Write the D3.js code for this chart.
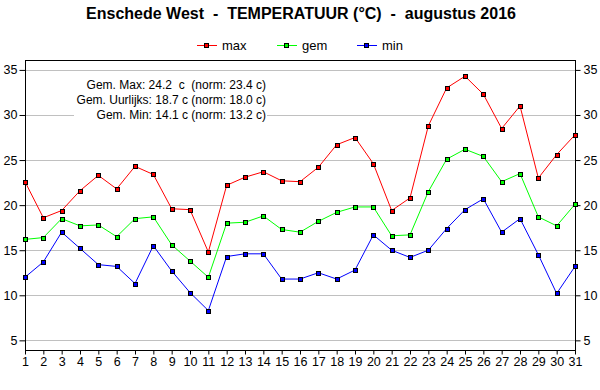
<!DOCTYPE html>
<html>
<head>
<meta charset="utf-8">
<script src="https://cdn.jsdelivr.net/npm/d3@7"></script>
<style>
  body { margin: 0; background: #fff; }
  svg { display: block; font-family: "Liberation Sans", Arial, sans-serif; }
  svg text { white-space: pre; }
</style>
</head>
<body>
<div id="chart"></div>
<script>
// data: augustus 2016, Enschede West
var days = d3.range(1, 32);
var maxTemp = [22.6, 18.6, 19.4, 21.6, 23.3, 21.8, 24.3, 23.4, 19.6, 19.5, 14.8, 22.2, 23.1, 23.7, 22.7, 22.6,
  24.2, 26.7, 27.5, 24.6, 19.4, 20.8, 28.8, 33.0, 34.3, 32.3, 28.5, 31.0, 23.0, 25.6, 27.8];
var gemTemp = [16.2, 16.4, 18.5, 17.7, 17.8, 16.5, 18.5, 18.7, 15.6, 13.8, 12.0, 18.0, 18.1, 18.8, 17.3, 17.0,
  18.2, 19.2, 19.8, 19.8, 16.6, 16.7, 21.5, 25.1, 26.2, 25.4, 22.6, 23.5, 18.7, 17.7, 20.1];
var minTemp = [12.0, 13.7, 17.0, 15.2, 13.4, 13.2, 11.3, 15.5, 12.7, 10.3, 8.3, 14.3, 14.6, 14.6, 11.8, 11.8,
  12.5, 11.8, 12.8, 16.7, 15.0, 14.2, 15.0, 17.4, 19.5, 20.7, 17.0, 18.5, 14.5, 10.2, 13.2];
var yTicks = [5, 10, 15, 20, 25, 30, 35];
var seriesNames = ["max", "gem", "min"];
var seriesColors = ["#ff0000", "#00ff00", "#0000ff"];
var statLines = [
  "Gem. Max: 24.2  c  (norm: 23.4 c)",
  "Gem. Uurlijks: 18.7 c (norm: 18.0 c)",
  "Gem. Min: 14.1 c (norm: 13.2 c)"
];
var title = "Enschede West  -  TEMPERATUUR (°C)  -  augustus 2016";

var width = 600, height = 390;
var margin = { top: 60, right: 25, bottom: 40, left: 25 };

var svg = d3.select("#chart").append("svg")
  .attr("width", width).attr("height", height);

var x = d3.scaleLinear().domain([1, 31]).range([margin.left, width - margin.right]);
var y = d3.scaleLinear().domain([3.93, 36.1]).range([height - margin.bottom, margin.top]);

// title
svg.append("text")
  .attr("x", 301).attr("y", 19)
  .attr("text-anchor", "middle")
  .style("font-weight", "bold").style("font-size", "16px")
  .text(title);

// legend
var legendX = [197, 277, 357];
var lg = svg.append("g").attr("class", "legend");
seriesNames.forEach(function (name, i) {
  var g = lg.append("g").attr("transform", "translate(" + legendX[i] + ",45)");
  g.append("line").attr("x1", 0).attr("x2", 20).attr("y1", 0.5).attr("y2", 0.5)
    .attr("stroke", seriesColors[i]).attr("stroke-width", 1);
  g.append("rect").attr("x", 7.5).attr("y", -1.5).attr("width", 4).attr("height", 4)
    .attr("fill", seriesColors[i]).attr("stroke", "#000").attr("stroke-width", 1);
  g.append("text").attr("x", 25).attr("y", 5).style("font-size", "13px").text(name);
});

// grid
svg.append("g").attr("class", "grid")
  .selectAll("line").data(yTicks).join("line")
  .attr("x1", margin.left).attr("x2", width - margin.right)
  .attr("y1", function (d) { return Math.round(y(d)) + 0.5; })
  .attr("y2", function (d) { return Math.round(y(d)) + 0.5; })
  .attr("stroke", "#c0c0c0").attr("stroke-width", 1);

// stats box (white, hides grid)
svg.append("rect").attr("x", 74).attr("y", 75).attr("width", 193).attr("height", 46).attr("fill", "#fff");
svg.append("g").selectAll("text").data(statLines).join("text")
  .attr("x", 266).attr("y", function (d, i) { return 88.5 + i * 15; })
  .attr("text-anchor", "end").style("font-size", "12px").attr("fill", "#000")
  .text(function (d) { return d; });

// axes
function styleAxis(g) {
  g.select(".domain").remove();
  g.selectAll(".tick line").attr("stroke", "#000");
  g.selectAll(".tick text").style("font-size", "12.5px").attr("fill", "#000").style("font-family", "Liberation Sans, Arial, sans-serif");
}
svg.append("g")
  .attr("transform", "translate(" + (margin.left + 0.5) + ",0)")
  .call(d3.axisLeft(y).tickValues(yTicks).tickSize(6).tickPadding(2))
  .call(styleAxis);
svg.append("g")
  .attr("transform", "translate(" + (width - margin.right + 0.5) + ",0)")
  .call(d3.axisRight(y).tickValues(yTicks).tickSize(5).tickPadding(3))
  .call(styleAxis);
svg.append("g")
  .attr("transform", "translate(0," + (height - margin.bottom + 0.5) + ")")
  .call(d3.axisBottom(x).tickValues(days).tickSize(4).tickPadding(3).tickFormat(d3.format("d")))
  .call(styleAxis);

// frame
svg.append("rect")
  .attr("x", margin.left + 0.5).attr("y", margin.top + 0.5)
  .attr("width", width - margin.left - margin.right)
  .attr("height", height - margin.top - margin.bottom)
  .attr("fill", "none").attr("stroke", "#000").attr("stroke-width", 1);

// series
var series = [maxTemp, gemTemp, minTemp];
var line = d3.line().x(function (d, i) { return x(days[i]); }).y(function (d) { return y(d); });
series.forEach(function (vals, s) {
  var g = svg.append("g").attr("class", "series-" + seriesNames[s]);
  g.append("path").datum(vals).attr("d", line)
    .attr("fill", "none").attr("stroke", seriesColors[s]).attr("stroke-width", 1);
  g.selectAll("rect").data(vals).join("rect")
    .attr("x", function (d, i) { return Math.round(x(days[i])) - 2 + 0.5; })
    .attr("y", function (d) { return Math.round(y(d)) - 2 + 0.5; })
    .attr("width", 4).attr("height", 4)
    .attr("fill", seriesColors[s]).attr("stroke", "#000").attr("stroke-width", 1);
});
</script>
</body>
</html>
